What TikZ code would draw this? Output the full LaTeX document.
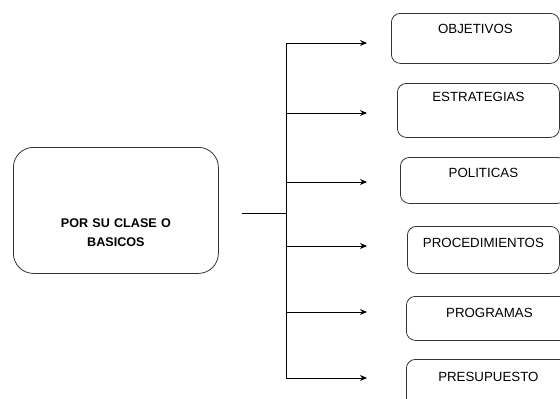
\documentclass[tikz,border=0pt]{standalone}
\usepackage{fontspec}
\setmainfont{Liberation Sans}
\usetikzlibrary{arrows.meta}
\begin{document}
\begin{tikzpicture}[x=1pt,y=-1pt,
  box/.style={draw=black!80, line width=0.8pt, rounded corners=9pt, inner sep=0pt,
    anchor=north west, align=center, font=\fontsize{13.3}{15}\selectfont},
  big/.style={draw=black!80, line width=0.8pt, rounded corners=20pt, inner sep=0pt,
    anchor=north west, align=center, font=\fontsize{12.6}{19}\selectfont\bfseries},
  conn/.style={line width=0.9pt, black},
  arr/.style={conn, -{Stealth[length=7pt,width=6pt]}}]
\useasboundingbox (0,0) rectangle (560,399);
\clip (0,0) rectangle (560,399);
% left box
\node[big, text width=205pt, text height=80pt, text depth=46pt] (src) at (13,147)
  {POR SU CLASE O\\BASICOS};
% right boxes
\node[box, text width=168pt, text height=20pt, text depth=30pt] (b1) at (391,13) {OBJETIVOS};
\node[box, text width=162pt, text height=18pt, text depth=36pt] (b2) at (397,83) {ESTRATEGIAS};
\node[box, text width=166pt, text height=20pt, text depth=26pt] (b3) at (400,157) {POLITICAS};
\node[box, text width=152pt, text height=21pt, text depth=26pt] (b4) at (407,226) {PROCEDIMIENTOS};
\node[box, text width=166pt, text height=21pt, text depth=23pt] (b5) at (406,296) {PROGRAMAS};
\node[box, text width=164pt, text height=22pt, text depth=40pt] (b6) at (406,359) {PRESUPUESTO};
% connectors
\coordinate (start) at (242,213);
\coordinate (hub) at (286,213);
\coordinate (top) at (286,43);
\coordinate (bot) at (286,378);
\coordinate (e1) at (367,43);
\coordinate (e2) at (367,113);
\coordinate (e3) at (367,182);
\coordinate (e4) at (367,246);
\coordinate (e5) at (367,312);
\coordinate (e6) at (367,378);
\draw[conn] (start) -- (hub);
\draw[conn] (top) -- (bot);
\draw[arr] (top) -- (e1);
\draw[arr] (286,113) -- (e2);
\draw[arr] (286,182) -- (e3);
\draw[arr] (286,246) -- (e4);
\draw[arr] (286,312) -- (e5);
\draw[arr] (bot) -- (e6);
\end{tikzpicture}
\end{document}
